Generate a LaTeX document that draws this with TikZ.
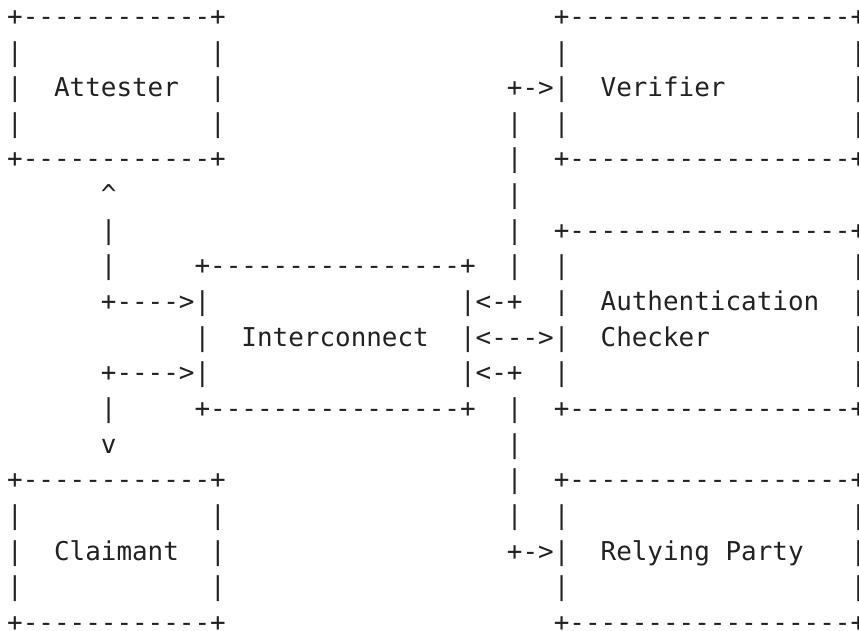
\documentclass[tikz,border=0pt]{standalone}
\usepackage{fontspec}
\setmonofont{DejaVu Sans Mono}
\definecolor{ink}{HTML}{222222}
\tikzset{
  asc/.style={inner sep=0pt, outer sep=0pt, anchor=base west, text=ink,
              font=\ttfamily\fontsize{25.94pt}{30pt}\selectfont},
}
% column c, row r  ->  left edge / baseline
\newcommand\art[4]{\node[asc] (#1) at ({7.19pt+15.617pt*#2},{-25.42pt-35.64pt*#3}) {#4};}
% a character in the last column, which the picture's right edge cuts in half
\newcommand\edgeart[3]{\node[asc] (#1) at ({7.19pt+15.617pt*54},{-25.42pt-35.64pt*#2}) {\makebox[7.8pt][l]{#3}};}
\begin{document}
\begin{tikzpicture}
\useasboundingbox (0,0) rectangle (859pt,-630pt);
% row 0
\art{a0}{0}{0}{+------------+}
\art{v0}{35}{0}{+------------------}\edgeart{v0e}{0}{+}
% row 1
\art{a1l}{0}{1}{|}\art{a1r}{13}{1}{|}
\art{v1l}{35}{1}{|}\edgeart{v1r}{1}{|}
% row 2
\art{a2l}{0}{2}{|}\art{attester}{3}{2}{Attester}\art{a2r}{13}{2}{|}
\art{arrv}{32}{2}{+->|}\art{verifier}{38}{2}{Verifier}\edgeart{v2r}{2}{|}
% row 3
\art{a3l}{0}{3}{|}\art{a3r}{13}{3}{|}
\art{b3}{32}{3}{|}\art{v3l}{35}{3}{|}\edgeart{v3r}{3}{|}
% row 4
\art{a4}{0}{4}{+------------+}
\art{b4}{32}{4}{|}\art{v4}{35}{4}{+------------------}\edgeart{v4e}{4}{+}
% row 5
\art{up}{6}{5}{\textasciicircum}\art{b5}{32}{5}{|}
% row 6
\art{l6}{6}{6}{|}\art{b6}{32}{6}{|}\art{c6}{35}{6}{+------------------}\edgeart{c6e}{6}{+}
% row 7
\art{l7}{6}{7}{|}\art{i7}{12}{7}{+----------------+}
\art{b7}{32}{7}{|}\art{c7l}{35}{7}{|}\edgeart{c7r}{7}{|}
% row 8
\art{l8}{6}{8}{+---->|}\art{r8}{29}{8}{|<-+}
\art{c8l}{35}{8}{|}\art{authn}{38}{8}{Authentication}\edgeart{c8r}{8}{|}
% row 9
\art{i9l}{12}{9}{|}\art{interconnect}{15}{9}{Interconnect}
\art{r9}{29}{9}{|<--->|}\art{checker}{38}{9}{Checker}\edgeart{c9r}{9}{|}
% row 10
\art{l10}{6}{10}{+---->|}\art{r10}{29}{10}{|<-+}
\art{c10l}{35}{10}{|}\edgeart{c10r}{10}{|}
% row 11
\art{l11}{6}{11}{|}\art{i11}{12}{11}{+----------------+}
\art{b11}{32}{11}{|}\art{c11}{35}{11}{+------------------}\edgeart{c11e}{11}{+}
% row 12
\art{down}{6}{12}{v}\art{b12}{32}{12}{|}
% row 13
\art{k13}{0}{13}{+------------+}
\art{b13}{32}{13}{|}\art{p13}{35}{13}{+------------------}\edgeart{p13e}{13}{+}
% row 14
\art{k14l}{0}{14}{|}\art{k14r}{13}{14}{|}
\art{b14}{32}{14}{|}\art{p14l}{35}{14}{|}\edgeart{p14r}{14}{|}
% row 15
\art{k15l}{0}{15}{|}\art{claimant}{3}{15}{Claimant}\art{k15r}{13}{15}{|}
\art{arrp}{32}{15}{+->|}\art{rp}{38}{15}{Relying Party}\edgeart{p15r}{15}{|}
% row 16
\art{k16l}{0}{16}{|}\art{k16r}{13}{16}{|}
\art{p16l}{35}{16}{|}\edgeart{p16r}{16}{|}
% row 17
\art{k17}{0}{17}{+------------+}
\art{p17}{35}{17}{+------------------}\edgeart{p17e}{17}{+}
\end{tikzpicture}
\end{document}
